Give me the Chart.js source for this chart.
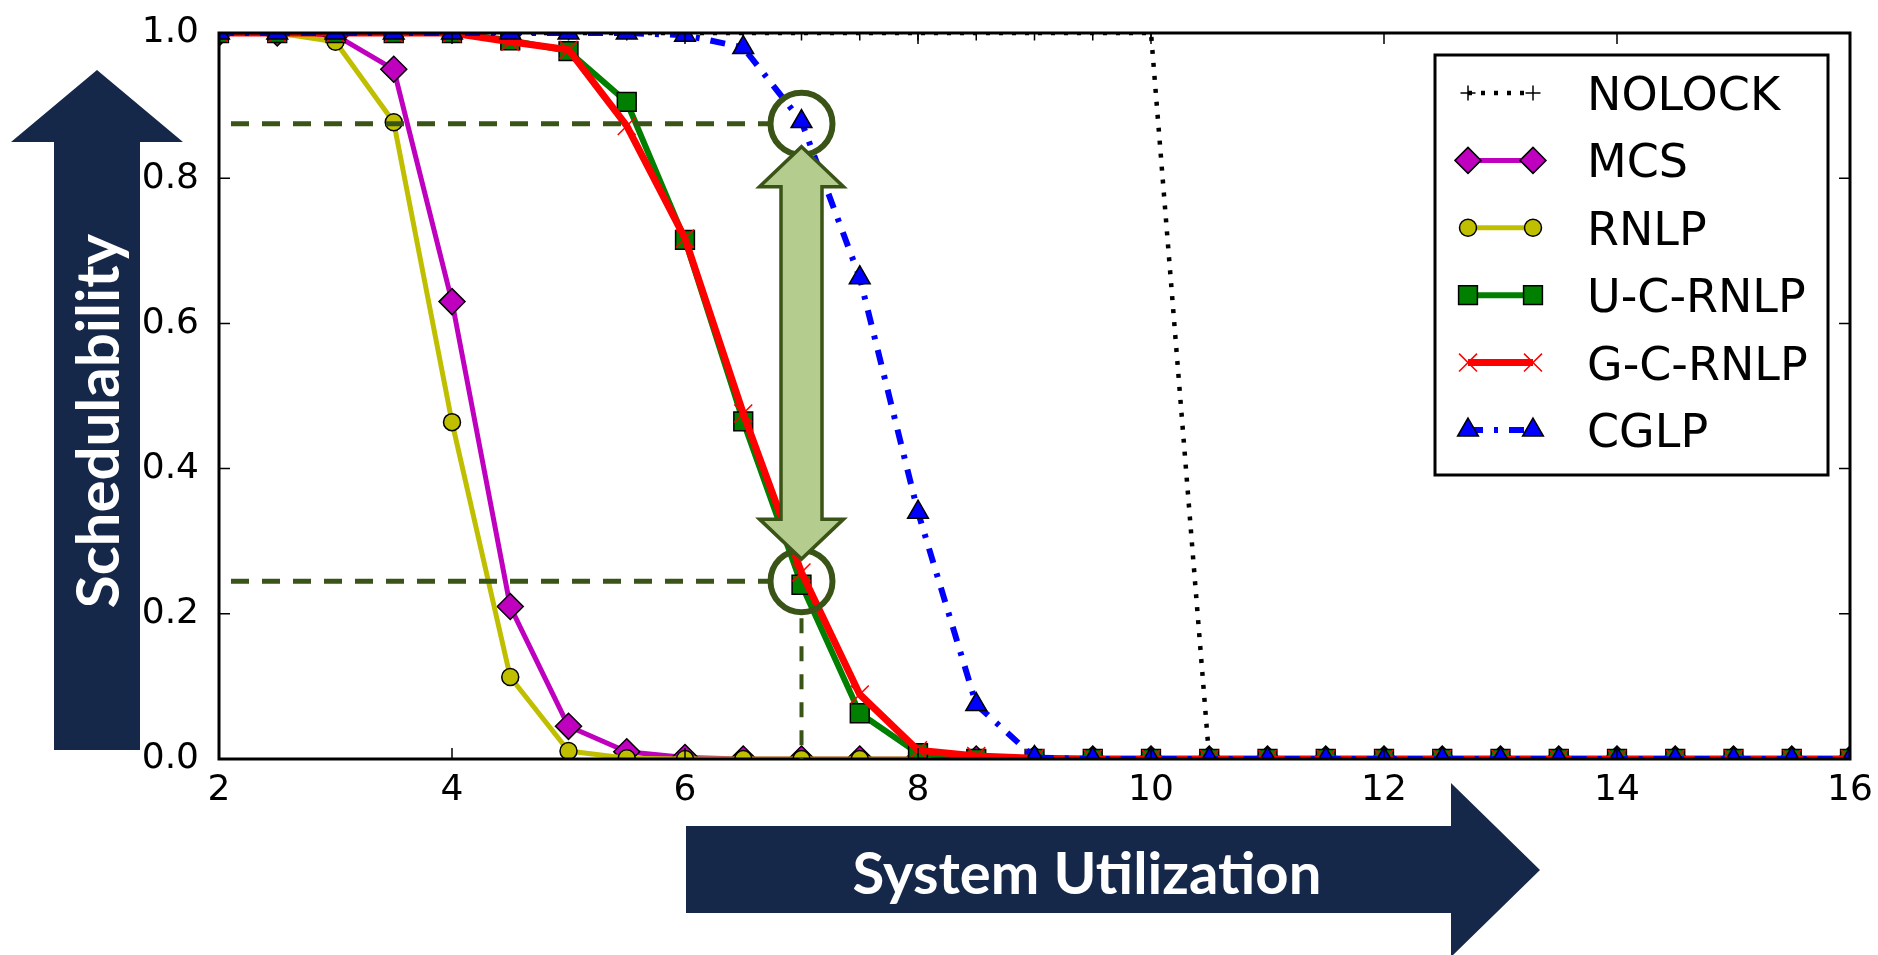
<!DOCTYPE html>
<html lang="en">
<head>
<meta charset="UTF-8">
<title>Schedulability vs System Utilization</title>
<script src="https://cdn.jsdelivr.net/npm/chart.js"></script>
<style>
  body { margin: 0; background: #fff; }
  #wrap { width: 1878px; height: 955px; }
</style>
</head>
<body>
<div id="wrap"><canvas id="chart" width="1878" height="955"></canvas></div>
<script>
// x axis: system utilization, one sample every 0.5
const utilization = [2, 2.5, 3, 3.5, 4, 4.5, 5, 5.5, 6, 6.5, 7, 7.5, 8, 8.5, 9, 9.5,
                     10, 10.5, 11, 11.5, 12, 12.5, 13, 13.5, 14, 14.5, 15, 15.5, 16];

// schedulability per protocol
const nolock = [1, 1, 1, 1, 1, 1, 1, 1, 1, 1, 1, 1, 1, 1, 1, 1,
                1, 0, 0, 0, 0, 0, 0, 0, 0, 0, 0, 0, 0];
const mcs    = [1, 1, 0.997, 0.95, 0.63, 0.21, 0.045, 0.01, 0.002, 0, 0, 0, 0, 0, 0, 0,
                0, 0, 0, 0, 0, 0, 0, 0, 0, 0, 0, 0, 0];
const rnlp   = [1, 1, 0.988, 0.877, 0.464, 0.113, 0.011, 0.001, 0, 0, 0, 0, 0, 0, 0, 0,
                0, 0, 0, 0, 0, 0, 0, 0, 0, 0, 0, 0, 0];
const ucRnlp = [1, 1, 1, 1, 1, 0.99, 0.975, 0.905, 0.715, 0.465, 0.24, 0.063, 0.008, 0, 0, 0,
                0, 0, 0, 0, 0, 0, 0, 0, 0, 0, 0, 0, 0];
const gcRnlp = [1, 1, 1, 1, 1, 0.988, 0.977, 0.872, 0.717, 0.476, 0.257, 0.089, 0.012, 0.004, 0.001, 0,
                0, 0, 0, 0, 0, 0, 0, 0, 0, 0, 0, 0, 0];
const cglp   = [1, 1, 1, 1, 1, 1, 1, 1, 0.997, 0.98, 0.878, 0.663, 0.34, 0.075, 0.002, 0,
                0, 0, 0, 0, 0, 0, 0, 0, 0, 0, 0, 0, 0];

const xRange = [2, 16];
const yRange = [0, 1];

// highlighted comparison (CGLP vs U-C-RNLP at u = 7)
const markU = 7;
const markHigh = 0.875;
const markLow = 0.245;

const yLabel = 'Schedulability';
const xLabel = 'System Utilization';

const navy = '#16284a';
const olive = '#3a5316';
const lightGreen = '#b4cd8e';

function pts(vals) {
  return utilization.map((u, i) => ({ x: u, y: vals[i] }));
}

const datasets = [
  { label: 'NOLOCK', data: pts(nolock), borderColor: '#000', borderWidth: 4.5, borderDash: [4, 9],
    pointStyle: 'cross', pointRadius: 7.5, pointBorderWidth: 1.5,
    pointBorderColor: '#000', pointBackgroundColor: '#000', order: 6 },
  { label: 'MCS', data: pts(mcs), borderColor: '#bf00bf', borderWidth: 5,
    pointStyle: 'rectRot', pointRadius: 13, pointBorderWidth: 1.5,
    pointBorderColor: '#000', pointBackgroundColor: '#bf00bf', order: 5 },
  { label: 'RNLP', data: pts(rnlp), borderColor: '#bfbf00', borderWidth: 5,
    pointStyle: 'circle', pointRadius: 8.5, pointBorderWidth: 1.5,
    pointBorderColor: '#000', pointBackgroundColor: '#bfbf00', order: 4 },
  { label: 'U-C-RNLP', data: pts(ucRnlp), borderColor: '#007f00', borderWidth: 6,
    pointStyle: 'rect', pointRadius: 13.3, pointBorderWidth: 1.5,
    pointBorderColor: '#000', pointBackgroundColor: '#007f00', order: 3 },
  { label: 'G-C-RNLP', data: pts(gcRnlp), borderColor: '#ff0000', borderWidth: 7,
    pointStyle: 'crossRot', pointRadius: 12.7, pointBorderWidth: 1.5,
    pointBorderColor: '#ff0000', pointBackgroundColor: '#ff0000', order: 2 },
  { label: 'CGLP', data: pts(cglp), borderColor: '#0000ff', borderWidth: 6, borderDash: [15, 11, 4, 11],
    pointStyle: 'triangle', pointRadius: 12, pointBorderWidth: 1.5,
    pointBorderColor: '#000', pointBackgroundColor: '#0000ff', order: 1 }
];
datasets.forEach(d => { d.fill = false; d.tension = 0; d.clip = 0; d.borderCapStyle = 'butt'; d.borderJoinStyle = 'round'; });

function drawMarker(ctx, ds, px, py) {
  ctx.save();
  ctx.setLineDash([]);
  ctx.fillStyle = ds.pointBackgroundColor;
  ctx.strokeStyle = ds.pointBorderColor;
  ctx.lineWidth = ds.pointBorderWidth;
  Chart.helpers.drawPoint(ctx, { pointStyle: ds.pointStyle, radius: ds.pointRadius,
    borderWidth: ds.pointBorderWidth, rotation: 0 }, px, py);
  ctx.restore();
}

function drawLegend(ctx) {
  const box = { l: 1435, t: 55, r: 1828, b: 475 };
  ctx.fillStyle = '#fff';
  ctx.fillRect(box.l, box.t, box.r - box.l, box.b - box.t);
  ctx.strokeStyle = '#000';
  ctx.lineWidth = 3;
  ctx.setLineDash([]);
  ctx.strokeRect(box.l, box.t, box.r - box.l, box.b - box.t);
  ctx.font = '46px "DejaVu Sans"';
  ctx.textAlign = 'left';
  ctx.textBaseline = 'alphabetic';
  datasets.forEach((ds, i) => {
    const cy = 93 + i * 67.4;
    ctx.save();
    ctx.strokeStyle = ds.borderColor;
    ctx.lineWidth = ds.borderWidth;
    ctx.lineCap = 'butt';
    ctx.setLineDash(ds.borderDash || []);
    ctx.beginPath();
    ctx.moveTo(1468, cy);
    ctx.lineTo(1533, cy);
    ctx.stroke();
    ctx.restore();
    drawMarker(ctx, ds, 1468, cy);
    drawMarker(ctx, ds, 1533, cy);
    ctx.fillStyle = '#000';
    ctx.fillText(ds.label, 1587, cy + 17);
  });
}

function drawHighlight(ctx, a, x, y) {
  const cx = x.getPixelForValue(markU);
  const hi = y.getPixelForValue(markHigh);
  const lo = y.getPixelForValue(markLow);
  const r = 31;
  ctx.strokeStyle = olive;
  // dashed guides
  ctx.lineWidth = 5;
  ctx.setLineDash([18, 13]);
  ctx.beginPath();
  ctx.moveTo(a.left + 12, hi); ctx.lineTo(cx - r, hi);
  ctx.moveTo(a.left + 12, lo); ctx.lineTo(cx - r, lo);
  ctx.stroke();
  ctx.lineWidth = 4;
  ctx.setLineDash([15, 13]);
  ctx.beginPath();
  ctx.moveTo(cx, lo + r + 6); ctx.lineTo(cx, a.bottom);
  ctx.stroke();
  ctx.setLineDash([]);
  // circles
  ctx.lineWidth = 6;
  [hi, lo].forEach(cy => {
    ctx.beginPath();
    ctx.arc(cx, cy, r, 0, Math.PI * 2);
    ctx.stroke();
  });
  // double headed arrow
  const top = hi + 23, bot = lo - 22, hh = 40, hw = 42, sw = 20.5;
  ctx.beginPath();
  ctx.moveTo(cx, top);
  ctx.lineTo(cx + hw, top + hh);
  ctx.lineTo(cx + sw, top + hh);
  ctx.lineTo(cx + sw, bot - hh);
  ctx.lineTo(cx + hw, bot - hh);
  ctx.lineTo(cx, bot);
  ctx.lineTo(cx - hw, bot - hh);
  ctx.lineTo(cx - sw, bot - hh);
  ctx.lineTo(cx - sw, top + hh);
  ctx.lineTo(cx - hw, top + hh);
  ctx.closePath();
  ctx.fillStyle = lightGreen;
  ctx.fill();
  ctx.lineWidth = 3.5;
  ctx.lineJoin = 'miter';
  ctx.stroke();
}

function drawAxisArrows(ctx) {
  ctx.fillStyle = navy;
  // vertical arrow (y label)
  ctx.beginPath();
  ctx.moveTo(97, 70);
  ctx.lineTo(183, 142);
  ctx.lineTo(140, 142);
  ctx.lineTo(140, 750);
  ctx.lineTo(54, 750);
  ctx.lineTo(54, 142);
  ctx.lineTo(11, 142);
  ctx.closePath();
  ctx.fill();
  // horizontal arrow (x label)
  ctx.beginPath();
  ctx.moveTo(686, 826);
  ctx.lineTo(1451, 826);
  ctx.lineTo(1451, 783);
  ctx.lineTo(1540, 870);
  ctx.lineTo(1451, 957);
  ctx.lineTo(1451, 913);
  ctx.lineTo(686, 913);
  ctx.closePath();
  ctx.fill();

  ctx.fillStyle = '#fff';
  ctx.textAlign = 'center';
  ctx.textBaseline = 'alphabetic';
  ctx.save();
  ctx.translate(119, 421);
  ctx.rotate(-Math.PI / 2);
  ctx.font = 'bold 60px Lato';
  ctx.fillText(yLabel, 0, 0);
  ctx.restore();
  ctx.font = 'bold 58px Lato';
  ctx.fillText(xLabel, 1087, 894);
}

const overlay = {
  id: 'overlay',
  afterDatasetsDraw(chart) {
    const { ctx, chartArea: a, scales: { x, y } } = chart;
    ctx.save();
    // axes frame with inward ticks
    ctx.strokeStyle = '#000';
    ctx.setLineDash([]);
    ctx.lineWidth = 1.5;
    ctx.beginPath();
    x.ticks.forEach(t => {
      const px = x.getPixelForValue(t.value);
      ctx.moveTo(px, a.bottom); ctx.lineTo(px, a.bottom - 11);
      ctx.moveTo(px, a.top); ctx.lineTo(px, a.top + 11);
    });
    y.ticks.forEach(t => {
      const py = y.getPixelForValue(t.value);
      ctx.moveTo(a.left, py); ctx.lineTo(a.left + 11, py);
      ctx.moveTo(a.right, py); ctx.lineTo(a.right - 11, py);
    });
    ctx.stroke();
    ctx.lineWidth = 3;
    ctx.strokeRect(a.left, a.top, a.right - a.left, a.bottom - a.top);

    drawLegend(ctx);
    drawHighlight(ctx, a, x, y);
    drawAxisArrows(ctx);
    ctx.restore();
  }
};

Chart.defaults.font.family = '"DejaVu Sans", sans-serif';
Chart.defaults.color = '#000';

new Chart(document.getElementById('chart').getContext('2d'), {
  type: 'line',
  data: { datasets },
  options: {
    responsive: false,
    animation: false,
    events: [],
    layout: { padding: { left: 0, top: 33, right: 28, bottom: 0 } },
    plugins: { legend: { display: false }, tooltip: { enabled: false }, title: { display: false } },
    scales: {
      x: {
        type: 'linear', min: xRange[0], max: xRange[1],
        grid: { display: false, drawTicks: false },
        border: { display: false },
        ticks: { stepSize: 2, padding: 10, font: { size: 36 }, color: '#000', maxRotation: 0 },
        afterFit: s => { s.height = 196; s.paddingLeft = 0; s.paddingRight = 0; }
      },
      y: {
        type: 'linear', min: yRange[0], max: yRange[1],
        grid: { display: false, drawTicks: false },
        border: { display: false },
        ticks: { stepSize: 0.2, padding: 20, font: { size: 36 }, color: '#000',
                 callback: v => v.toFixed(1) },
        afterFit: s => { s.width = 219; s.paddingTop = 0; s.paddingBottom = 0; }
      }
    }
  },
  plugins: [overlay]
});
</script>
</body>
</html>
